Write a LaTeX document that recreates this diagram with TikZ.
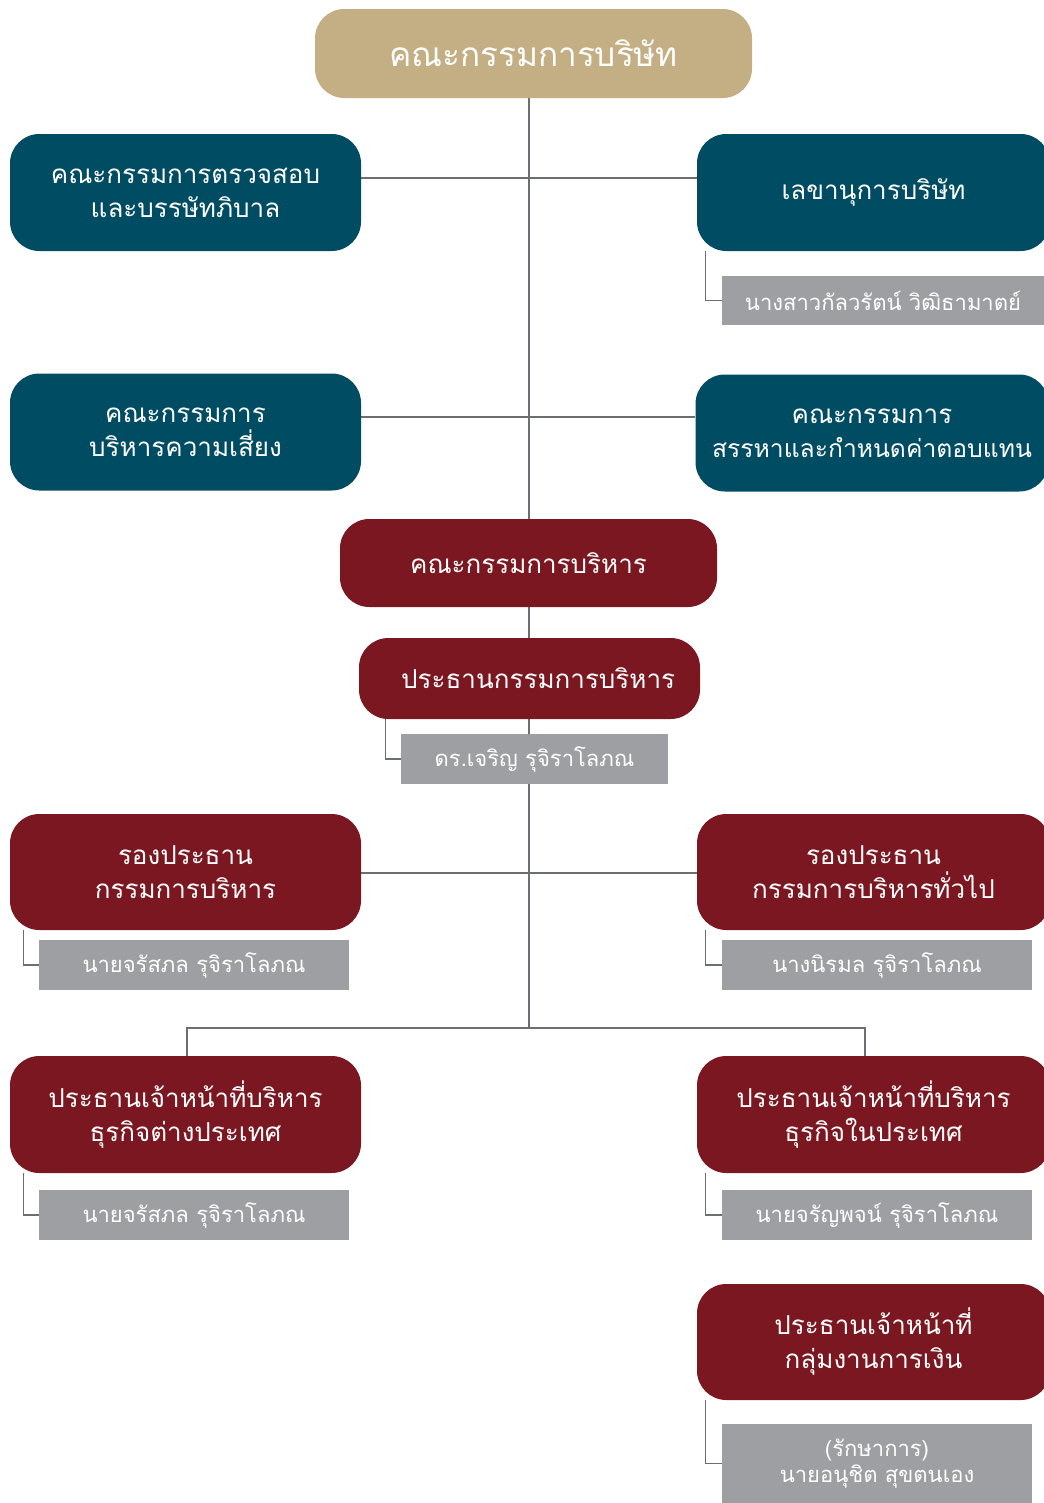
\documentclass[tikz,border=0pt]{standalone}
\usepackage{fontspec}
\newfontfamily\thaifont[Script=Thai]{Loma}
\usetikzlibrary{backgrounds}
\definecolor{cgold}{HTML}{C4AF84}
\definecolor{cteal}{HTML}{004C63}
\definecolor{cred}{HTML}{7B1720}
\definecolor{cgrey}{HTML}{9D9FA2}
\definecolor{cline}{HTML}{6D6E71}
\tikzset{
  box/.style={rounded corners=22pt, inner sep=0pt, align=center, text=white,
    font=\thaifont\fontsize{19.5}{25.5}\selectfont},
  bigbox/.style={box, fill=cgold, minimum width=327.75pt, minimum height=66.75pt,
    font=\thaifont\fontsize{25}{30}\selectfont},
  tealbox/.style={box, fill=cteal, minimum width=263.25pt, minimum height=87.75pt},
  tealboxr/.style={box, fill=cteal, minimum width=264.75pt, minimum height=87.75pt},
  redbox/.style={box, fill=cred, minimum width=263.25pt, minimum height=87.75pt},
  redboxr/.style={box, fill=cred, minimum width=264.75pt, minimum height=87.75pt},
  namebox/.style={fill=cgrey, inner sep=0pt, align=center, text=white,
    minimum width=232.5pt, minimum height=37.5pt,
    font=\thaifont\fontsize{16.5}{20}\selectfont},
  mainline/.style={draw=cline, line width=1.6pt},
  thinline/.style={draw=cline, line width=0.8pt},
}
\begin{document}
\begin{tikzpicture}[x=0.75pt,y=-0.75pt]
\useasboundingbox (0,0) rectangle (1044,1503);
\clip (0,0) rectangle (1044,1503);

% nodes
\node[bigbox] (board) at (533.5,53.5) {คณะกรรมการบริษัท};
\node[tealbox] (audit) at (185.5,192.5) {คณะกรรมการตรวจสอบ\\และบรรษัทภิบาล};
\node[tealboxr] (sec) at (873.5,192.5) {เลขานุการบริษัท};
\node[namebox, minimum width=241.5pt, minimum height=36.75pt] (secname) at (883,300.5) {นางสาวกัลวรัตน์ วิฒิธามาตย์};
\node[tealbox] (risk) at (185.5,432) {คณะกรรมการ\\บริหารความเสี่ยง};
\node[tealboxr] (nom) at (872,433) {คณะกรรมการ\\{\fontsize{18.5}{25.5}\selectfont สรรหาและกำหนดค่าตอบแทน}};
\node[redbox, minimum width=282.75pt, minimum height=66pt] (exec) at (528.5,563) {คณะกรรมการบริหาร};
\node[redbox, minimum width=255.75pt, minimum height=60.75pt] (chair) at (529.5,678.5) {\hspace*{13pt}ประธานกรรมการบริหาร};
\node[namebox, minimum width=200.25pt] (chairname) at (534.5,759) {ดร.เจริญ รุจิราโลภณ};
\node[redbox, minimum height=87pt] (vp1) at (185.5,872) {รองประธาน\\กรรมการบริหาร};
\node[redboxr, minimum height=87pt] (vp2) at (873.5,872) {รองประธาน\\กรรมการบริหารทั่วไป};
\node[namebox] (vp1name) at (194,965) {นายจรัสภล รุจิราโลภณ};
\node[namebox] (vp2name) at (877,965) {นางนิรมล รุจิราโลภณ};
\node[redbox] (ceo1) at (185.5,1114.5) {ประธานเจ้าหน้าที่บริหาร\\ธุรกิจต่างประเทศ};
\node[redboxr] (ceo2) at (873.5,1114.5) {ประธานเจ้าหน้าที่บริหาร\\ธุรกิจในประเทศ};
\node[namebox] (ceo1name) at (194,1215) {นายจรัสภล รุจิราโลภณ};
\node[namebox] (ceo2name) at (877,1215) {นายจรัญพจน์ รุจิราโลภณ};
\node[redboxr, minimum height=87pt] (cfo) at (873.5,1342) {ประธานเจ้าหน้าที่\\กลุ่มงานการเงิน};
\node[namebox, minimum height=59.25pt] (cfoname) at (877,1463.5) {(รักษาการ)\\นายอนุชิต สุขตนเอง};

% connectors
\coordinate (split) at (529,1028);
\coordinate (r1) at (529,178);
\coordinate (r2) at (529,417);
\coordinate (r3) at (529,873);
\coordinate (bl) at (187,1028);
\coordinate (br) at (865,1028);
\begin{scope}[on background layer]
  \draw[mainline] (split |- board.south) -- (split);
  \draw[mainline] (audit.east |- r1) -- (sec.west |- r1);
  \draw[mainline] (risk.east |- r2) -- (nom.west |- r2);
  \draw[mainline] (vp1.east |- r3) -- (vp2.west |- r3);
  \draw[mainline] (bl |- ceo1.north) -- (bl) -- (br) -- (br |- ceo2.north);
  \draw[thinline] (secname.west) -| ([xshift=6.75pt]sec.south west);
  \draw[thinline] (chairname.west) -| ([xshift=20pt]chair.south west);
  \draw[thinline] (vp1name.west) -| ([xshift=10.5pt]vp1.south west);
  \draw[thinline] (vp2name.west) -| ([xshift=6.75pt]vp2.south west);
  \draw[thinline] (ceo1name.west) -| ([xshift=10.5pt]ceo1.south west);
  \draw[thinline] (ceo2name.west) -| ([xshift=6.75pt]ceo2.south west);
  \draw[thinline] (cfoname.west) -| ([xshift=6.75pt]cfo.south west);
\end{scope}
\end{tikzpicture}
\end{document}
